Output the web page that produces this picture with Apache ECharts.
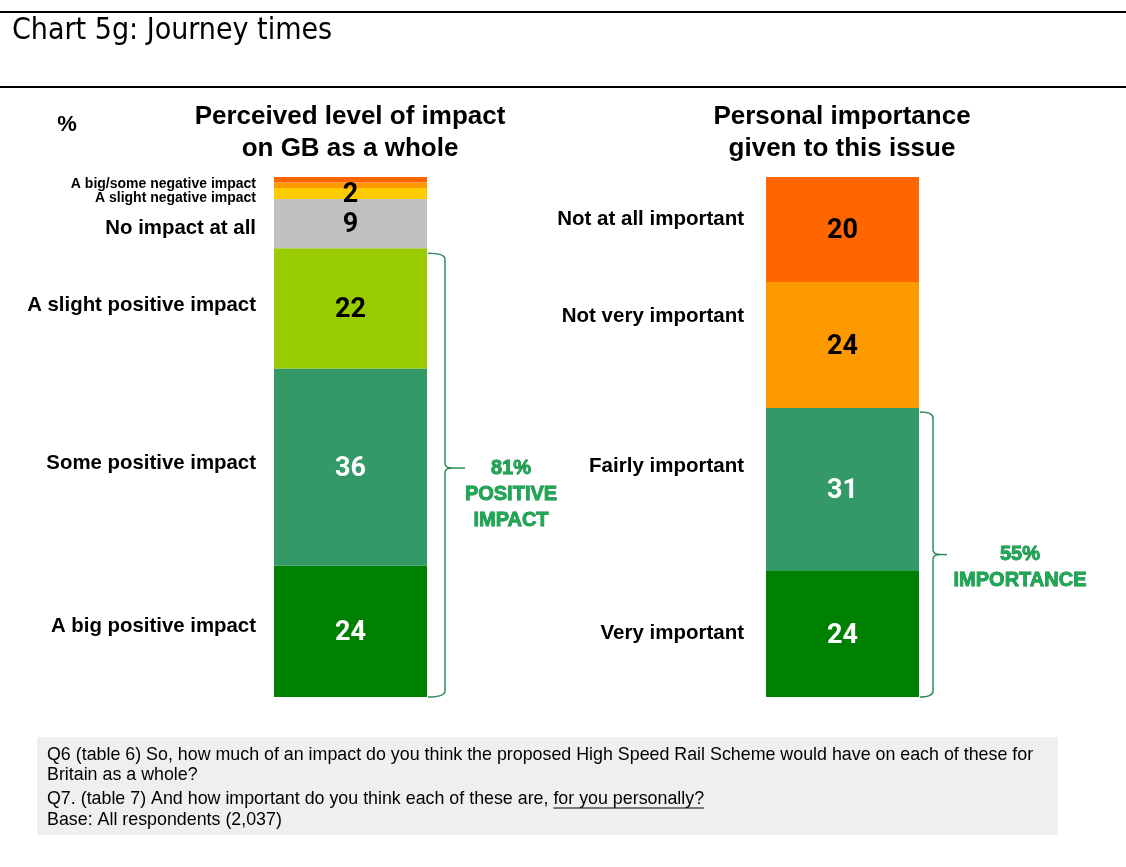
<!DOCTYPE html>
<html>
<head>
<meta charset="utf-8">
<script src="https://cdn.jsdelivr.net/npm/echarts@6/dist/echarts.min.js"></script>
<style>
  html, body { margin: 0; padding: 0; background: #fff; }
  #chart { width: 1126px; height: 867px; }
</style>
</head>
<body>
<div id="chart"></div>
<script>
// data, bottom of the bar first
var impactCats = ['A big positive impact', 'Some positive impact', 'A slight positive impact', 'No impact at all',
  'A slight negative impact', 'Some negative impact', 'A big negative impact'];
var impactNames = ['A big positive impact', 'Some positive impact', 'A slight positive impact', 'No impact at all',
  'A slight negative impact', 'A big/some negative impact', ''];
var impactValues = [24, 36, 22, 9, 2, 1, 1];

var importanceCats = ['Very important', 'Fairly important', 'Not very important', 'Not at all important'];
var importanceValues = [24, 31, 24, 20];

var positiveText = ['81%', 'POSITIVE', 'IMPACT'];
var importanceText = ['55%', 'IMPORTANCE'];

// styles
var impactColors = ['#008000', '#339966', '#99CC00', '#C0C0C0', '#FFCC00', '#FF9900', '#FF6600'];
var impactNumColors = ['#fff', '#fff', '#000', '#000', '#000', '#000', '#000'];
var impactNameOffsets = [[0, -5], [0, -4], [0, -3], [0, 5], [0, 5], [0, -1], [0, 0]];
var impactNameSizes = [20.4, 20.4, 20.4, 20.4, 14, 14, 14];

var importanceColors = ['#008000', '#339966', '#FF9900', '#FF6600'];
var importanceNumColors = ['#fff', '#fff', '#000', '#000'];
var importanceNameOffsets = [[0, -1], [0, -23], [0, -29], [0, -10]];
var importanceNameSizes = [20.5, 20.5, 20.5, 20.5];

var NUM_FONT = 'Roboto, "Liberation Sans", sans-serif';
var LBL_FONT = '"Liberation Sans", Arial, sans-serif';
var BRACE = '#2E8B57';
var BAR_W = 153;

var myChart = echarts.init(document.getElementById('chart'));

function sum(a) { return a.reduce(function (s, v) { return s + v; }, 0); }

function buildSeries(values, names, colors, numColors, offsets, sizes, dist, axis, stack) {
  var out = [];
  var acc = 0;
  var nums = [];
  values.forEach(function (v, i) {
    out.push({
      type: 'bar',
      name: names[i],
      stack: stack,
      xAxisIndex: axis,
      yAxisIndex: axis,
      barWidth: '100%',
      itemStyle: { color: colors[i] },
      label: {
        show: names[i] !== '',
        position: 'left',
        distance: dist,
        offset: offsets[i],
        formatter: names[i],
        color: '#000',
        fontFamily: LBL_FONT,
        fontWeight: 'bold',
        fontSize: sizes[i]
      },
      silent: true,
      data: [v]
    });
    if (v >= 2) {
      nums.push({ value: [0, acc + v / 2, v], label: { color: numColors[i] } });
    }
    acc += v;
  });
  out.push({
    type: 'scatter',
    xAxisIndex: axis,
    yAxisIndex: axis,
    symbolSize: 1,
    itemStyle: { color: 'rgba(0,0,0,0)', opacity: 1 },
    silent: true,
    z: 5,
    label: {
      show: true,
      position: 'inside',
      offset: [0, 2],
      fontFamily: NUM_FONT,
      fontWeight: 'bold',
      fontSize: 27,
      textBorderWidth: 0,
      opacity: 1,
      formatter: function (p) { return p.value[2]; }
    },
    data: nums
  });
  return out;
}

var series = buildSeries(impactValues, impactNames, impactColors, impactNumColors, impactNameOffsets, impactNameSizes, 18, 0, 'impact')
  .concat(buildSeries(importanceValues, importanceCats, importanceColors, importanceNumColors, importanceNameOffsets, importanceNameSizes, 22, 1, 'importance'));

myChart.setOption({
  animation: false,
  grid: [
    { left: 274, top: 177, width: BAR_W, height: 520 },
    { left: 766, top: 177, width: BAR_W, height: 520 }
  ],
  xAxis: [
    { type: 'category', gridIndex: 0, data: ['GB'], show: false },
    { type: 'category', gridIndex: 1, data: ['Personal'], show: false }
  ],
  yAxis: [
    { type: 'value', gridIndex: 0, min: 0, max: sum(impactValues), show: false },
    { type: 'value', gridIndex: 1, min: 0, max: sum(importanceValues), show: false }
  ],
  series: series
});

// curly bracket drawn from lines and curves, placed from the axis scale
function brace(axis, fromVal, gapTop, arm, tipLen, tipShift) {
  var top = myChart.convertToPixel({ xAxisIndex: axis, yAxisIndex: axis }, [0, fromVal]);
  var bot = myChart.convertToPixel({ xAxisIndex: axis, yAxisIndex: axis }, [0, 0]);
  var xa = top[0] + BAR_W / 2 + 1;
  var xb = xa + arm;
  var yT = top[1] + gapTop;
  var yB = bot[1];
  var ym = (yT + yB) / 2 + tipShift;
  var tip = xb + tipLen;
  var st = { stroke: BRACE, lineWidth: 1.5, fill: null };
  function ln(x1, y1, x2, y2) { return { type: 'line', shape: { x1: x1, y1: y1, x2: x2, y2: y2 }, style: st }; }
  function cv(x1, y1, cx, cy, x2, y2) { return { type: 'bezierCurve', shape: { x1: x1, y1: y1, cpx1: cx, cpy1: cy, x2: x2, y2: y2 }, style: st }; }
  return { tip: tip, ym: ym, el: {
    type: 'group',
    children: [
      cv(xa, yT, xb, yT, xb, yT + 6),
      ln(xb, yT + 6, xb, ym - 5),
      cv(xb, ym - 5, xb, ym, xb + 7, ym),
      ln(xb + 7, ym, tip, ym),
      cv(xb + 7, ym, xb, ym, xb, ym + 5),
      ln(xb, ym + 5, xb, yB - 6),
      cv(xb, yB - 6, xb, yB, xa, yB)
    ]
  } };
}

var b1 = brace(0, impactValues[0] + impactValues[1] + impactValues[2], 5, 17, 20, -7);
var b2 = brace(1, importanceValues[0] + importanceValues[1], 4, 13, 14, 0);

function sideText(lines, cx, y) {
  return {
    type: 'text', x: cx, y: y - 13,
    style: {
      text: lines.join('\n'), align: 'center', verticalAlign: 'top',
      font: 'bold 20px ' + LBL_FONT, lineHeight: 26,
      fill: '#1DAA55', stroke: '#137A3E', lineWidth: 0.8
    }
  };
}

// footnote font sized so the first line spans the grey box like the original
var q6 = 'Q6 (table 6) So, how much of an impact do you think the proposed High Speed Rail Scheme would have on each of these for';
var q7a = 'Q7. (table 7) And how important do you think each of these are, ';
var q7b = 'for you personally?';
var ctx = document.createElement('canvas').getContext('2d');
ctx.font = '16px "Liberation Sans", Arial, sans-serif';
var footSize = 16 * 986 / ctx.measureText(q6).width;
var FOOT_FONT = footSize.toFixed(2) + 'px "Liberation Sans", Arial, sans-serif';
ctx.font = FOOT_FONT;
var uStart = 47 + ctx.measureText(q7a).width;
var uEnd = uStart + ctx.measureText(q7b).width;

function ft(text, y) {
  return { type: 'text', x: 47, y: y, style: { text: text, font: FOOT_FONT, fill: '#000', verticalAlign: 'middle' } };
}

myChart.setOption({
  graphic: [
    { type: 'line', shape: { x1: 0, y1: 12, x2: 1126, y2: 12 }, style: { stroke: '#000', lineWidth: 2 } },
    { type: 'line', shape: { x1: 0, y1: 87, x2: 1126, y2: 87 }, style: { stroke: '#000', lineWidth: 2 } },
    { type: 'text', x: 12, y: 31, style: { text: 'Chart 5g: Journey times', font: '30px "DejaVu Sans Condensed", "DejaVu Sans", sans-serif', fill: '#000', verticalAlign: 'middle' } },
    { type: 'text', x: 67, y: 125, style: { text: '%', font: 'bold 22px ' + LBL_FONT, fill: '#000', align: 'center', verticalAlign: 'middle' } },
    { type: 'text', x: 350, y: 133, style: { text: 'Perceived level of impact\non GB as a whole', font: 'bold 26px ' + LBL_FONT, lineHeight: 32, fill: '#000', align: 'center', verticalAlign: 'middle' } },
    { type: 'text', x: 842, y: 133, style: { text: 'Personal importance\ngiven to this issue', font: 'bold 26px ' + LBL_FONT, lineHeight: 32, fill: '#000', align: 'center', verticalAlign: 'middle' } },
    b1.el, b2.el,
    sideText(positiveText, b1.tip + 46, b1.ym),
    sideText(importanceText, b2.tip + 73, b2.ym),
    { type: 'rect', shape: { x: 37, y: 737, width: 1021, height: 98 }, style: { fill: '#EFEFEF' }, z: -1 },
    ft(q6, 755),
    ft('Britain as a whole?', 775),
    ft(q7a + q7b, 799),
    { type: 'line', shape: { x1: uStart, y1: 808, x2: uEnd, y2: 808 }, style: { stroke: '#000', lineWidth: 1 } },
    ft('Base: All respondents (2,037)', 820)
  ]
});
</script>
</body>
</html>
